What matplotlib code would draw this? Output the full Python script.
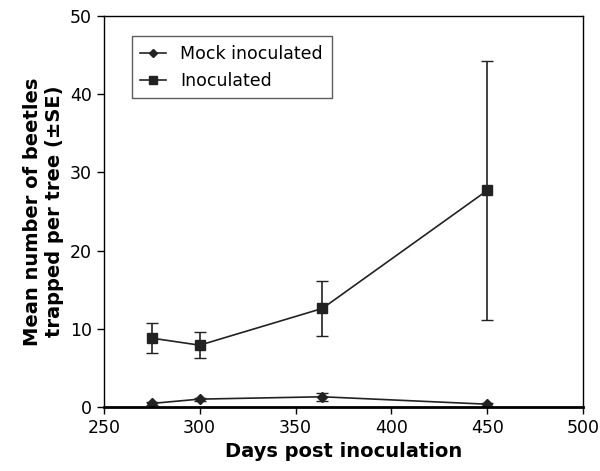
import matplotlib
matplotlib.use("Agg")
import matplotlib.pyplot as plt

# days post inoculation
days = [275, 300, 364, 450]

# mean beetles per tree and standard errors
mock_mean = [0.45, 1.0, 1.3, 0.35]
mock_se = [0.2, 0.2, 0.5, 0.2]
inoc_mean = [8.8, 7.9, 12.6, 27.7]
inoc_err_low = [1.9, 1.7, 3.5, 16.6]
inoc_err_high = [1.9, 1.7, 3.5, 16.6]

plt.rcParams["font.family"] = "DejaVu Sans"

fig = plt.figure(figsize=(6.0, 4.71), dpi=100)
ax = fig.add_axes([0.173, 0.136, 0.799, 0.830])

mock = ax.errorbar(days, mock_mean, yerr=mock_se, color="#222222", marker="D", markersize=5,
                   linewidth=1.2, capsize=4, elinewidth=1.2)
inoc = ax.errorbar(days, inoc_mean, yerr=[inoc_err_low, inoc_err_high], color="#222222", marker="s",
                   markersize=7, linewidth=1.2, capsize=4, elinewidth=1.2)

ax.set_xlim(250, 500)
ax.set_ylim(0, 50)
ax.set_xticks(range(250, 501, 50))
ax.set_yticks(range(0, 51, 10))
ax.tick_params(labelsize=12.5, direction="out", length=5, width=1)
ax.spines["bottom"].set_linewidth(2)
for s in ["left", "top", "right"]:
    ax.spines[s].set_linewidth(1)

ax.set_xlabel("Days post inoculation", fontsize=14, fontweight="bold")
ax.set_ylabel("Mean number of beetles\ntrapped per tree (\u00b1SE)", fontsize=14, fontweight="bold")

# legend shows only line + marker, no error bars
leg = ax.legend([mock.lines[0], inoc.lines[0]], ["Mock inoculated", "Inoculated"],
                loc="upper left", bbox_to_anchor=(0.04, 0.97), fontsize=12.5, fancybox=False,
                edgecolor="#333333", handlelength=1.5, borderpad=0.5, markerscale=0.8)
leg.get_frame().set_linewidth(1)

fig.savefig("out.png", dpi=100)
